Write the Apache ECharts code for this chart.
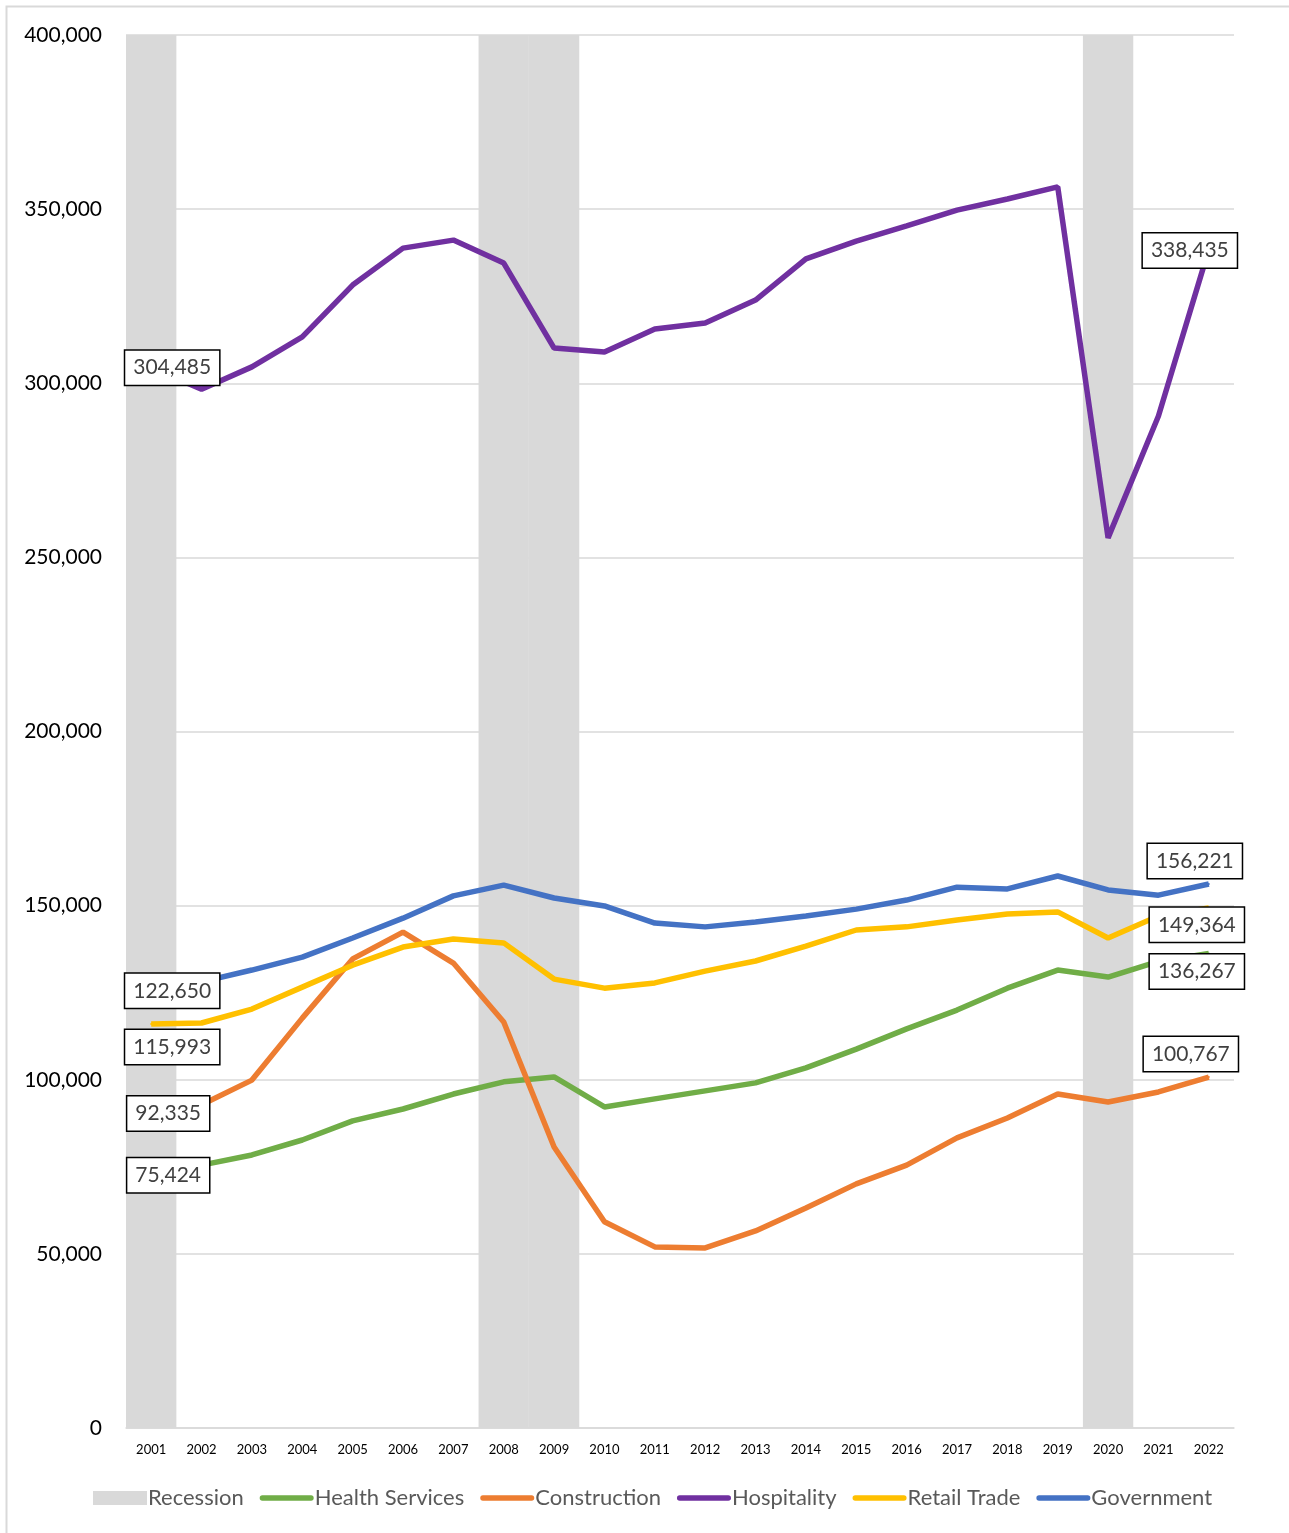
<!DOCTYPE html>
<html>
<head>
<meta charset="utf-8">
<script src="https://cdn.jsdelivr.net/npm/echarts@6/dist/echarts.min.js"></script>
<style>
  html, body { margin: 0; padding: 0; background: #fff; }
  #main { width: 1289px; height: 1533px; }
</style>
</head>
<body>
<div id="main"></div>
<script>
var years = ["2001", "2002", "2003", "2004", "2005", "2006", "2007", "2008", "2009", "2010", "2011",
             "2012", "2013", "2014", "2015", "2016", "2017", "2018", "2019", "2020", "2021", "2022"];

// recession years get a full-height grey bar
var recession = [400000, '-', '-', '-', '-', '-', '-', 400000, 400000, '-', '-',
                 '-', '-', '-', '-', '-', '-', '-', '-', 400000, '-', '-'];

var health = [75424, 75500, 78400, 82700, 88200, 91600, 95900, 99400, 100800, 92200, 94500,
              96800, 99100, 103400, 108800, 114600, 120000, 126300, 131500, 129500, 134000, 136267];
var construction = [92335, 92800, 99900, 117700, 134700, 142400, 133500, 116600, 80700, 59200, 52000,
                    51700, 56600, 63200, 70100, 75500, 83300, 89000, 95900, 93600, 96500, 100767];
var hospitality = [304485, 298300, 304700, 313300, 328200, 338800, 341100, 334500, 310100, 309000, 315600,
                   317300, 323900, 335700, 340800, 345200, 349700, 352900, 356400, 255600, 290600, 338435];
var retail = [115993, 116300, 120300, 126600, 132900, 138100, 140400, 139300, 128900, 126300, 127800,
              131200, 134100, 138400, 143000, 143900, 145900, 147600, 148200, 140700, 147000, 149364];
var government = [122650, 128100, 131500, 135200, 140700, 146400, 152800, 155900, 152200, 149900, 145000,
                  143900, 145300, 147000, 149000, 151600, 155300, 154800, 158500, 154500, 153000, 156221];

var fmt = function (v) { return Number(v).toLocaleString('en-US'); };

// only first and last point carry a boxed label
function withEnds(values, firstOffset, lastOffset) {
    return values.map(function (v, i) {
        if (i === 0 || i === values.length - 1) {
            return {
                value: v,
                symbol: 'circle',
                symbolSize: 2,
                label: {
                    show: true,
                    position: 'inside',
                    offset: i === 0 ? firstOffset : lastOffset,
                    formatter: function (p) { return fmt(p.value); },
                    backgroundColor: '#fff',
                    borderColor: '#000',
                    borderWidth: 1.5,
                    padding: [7, 8, 6, 8],
                    fontFamily: 'Lato',
                    fontSize: 21,
                    color: '#404040'
                }
            };
        }
        return v;
    });
}

function lineSeries(name, color, values, firstOffset, lastOffset) {
    return {
        name: name,
        type: 'line',
        symbol: 'none',
        data: withEnds(values, firstOffset, lastOffset),
        itemStyle: { color: color },
        lineStyle: { color: color, width: 5.5 },
        emphasis: { disabled: true },
        animation: false
    };
}

var lineIcon = 'path://M3,0 H57 A3,3 0 0 1 57,6 H3 A3,3 0 0 1 3,0 Z';

var myChart = echarts.init(document.getElementById('main'));
var option = {
    backgroundColor: '#fff',
    animation: false,
    graphic: [{
        type: 'rect',
        shape: { x: 6.5, y: 6.5, width: 1300, height: 1560 },
        style: { fill: 'none', stroke: '#d9d9d9', lineWidth: 2 },
        silent: true
    }],
    grid: { left: 126, right: 55, top: 35, bottom: 105 },
    legend: {
        bottom: 19,
        left: 88,
        itemWidth: 54,
        itemHeight: 14,
        itemGap: 16,
        textStyle: { fontFamily: 'Lato', fontSize: 22, color: '#595959', padding: [0, 0, 0, -4] },
        data: [
            { name: 'Recession', icon: 'rect' },
            { name: 'Health Services', icon: lineIcon },
            { name: 'Construction', icon: lineIcon },
            { name: 'Hospitality', icon: lineIcon },
            { name: 'Retail Trade', icon: lineIcon },
            { name: 'Government', icon: lineIcon }
        ]
    },
    xAxis: {
        type: 'category',
        data: years,
        boundaryGap: true,
        axisLine: { lineStyle: { color: '#d9d9d9', width: 1.5 } },
        axisTick: { show: false },
        axisLabel: { fontFamily: 'Lato', fontSize: 13, color: '#000', margin: 15, interval: 0 }
    },
    yAxis: {
        type: 'value',
        min: 0,
        max: 400000,
        interval: 50000,
        axisLine: { show: false },
        axisTick: { show: false },
        splitLine: { lineStyle: { color: '#d9d9d9', width: 1.5 } },
        axisLabel: {
            fontFamily: 'Lato', fontSize: 21, color: '#000', margin: 24,
            formatter: fmt
        }
    },
    series: [
        {
            name: 'Recession',
            type: 'bar',
            data: recession,
            barCategoryGap: '0%',
            itemStyle: { color: '#d9d9d9' },
            emphasis: { disabled: true },
            z: 1
        },
        lineSeries('Health Services', '#70ad47', health, [17, 10], [-12, 18]),
        lineSeries('Construction', '#ed7d31', construction, [17, 7], [-18, -23]),
        lineSeries('Hospitality', '#7030a0', hospitality, [21, 0], [-19, 1]),
        lineSeries('Retail Trade', '#ffc000', retail, [21, 23], [-12, 17]),
        lineSeries('Government', '#4472c4', government, [21, -10], [-14, -23])
    ]
};
myChart.setOption(option);
</script>
</body>
</html>
